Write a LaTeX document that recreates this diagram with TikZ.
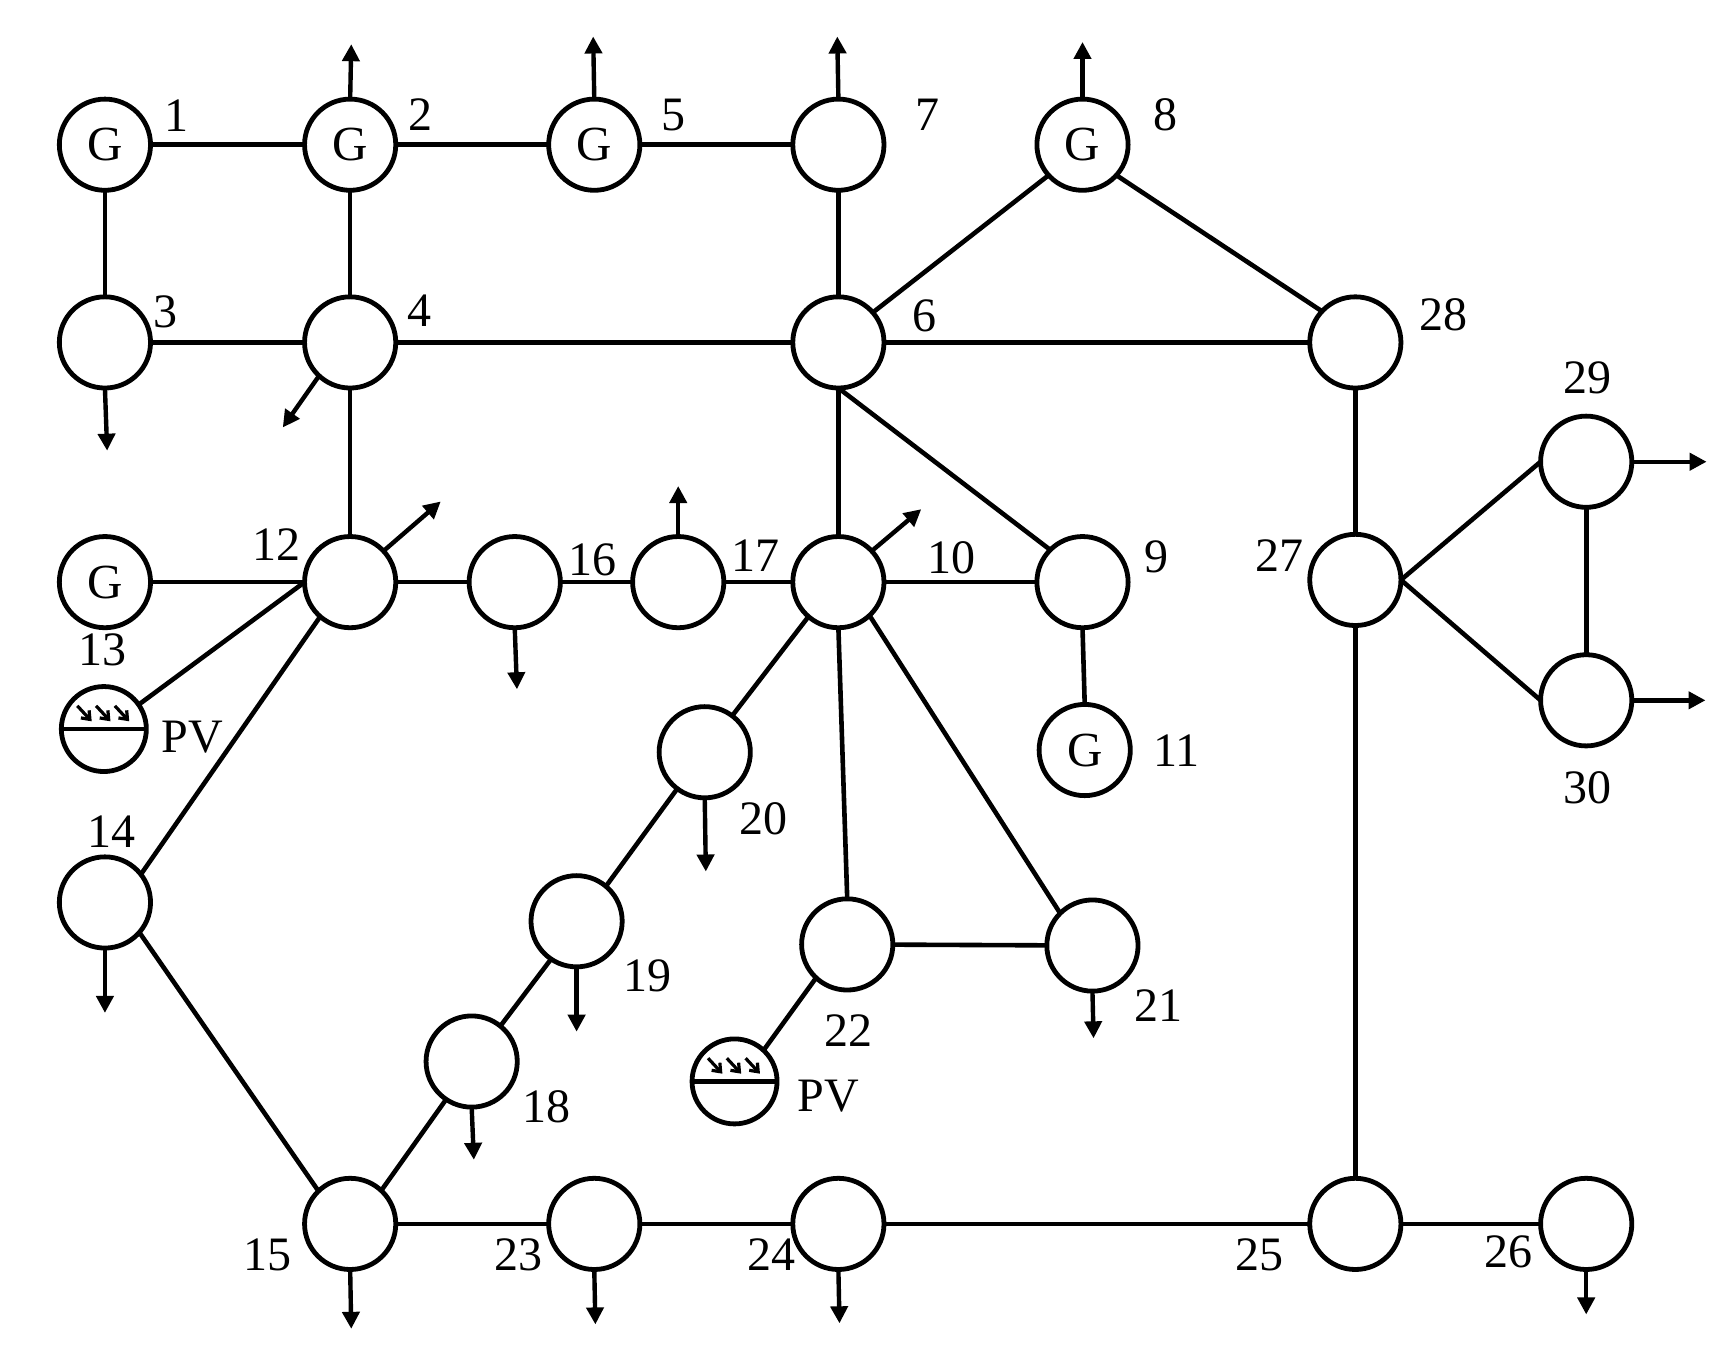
\documentclass[tikz,border=0pt]{standalone}
\usepackage{fontspec}
\setmainfont{Liberation Serif}
\usetikzlibrary{arrows.meta}
\tikzset{
  x=0.5523pt,y=-0.5523pt,
  bus/.style={circle,draw=black,line width=2.4pt,fill=white,minimum size=45.6pt,inner sep=0pt,outer sep=0pt,font=\fontsize{24.5}{24.5}\selectfont},
  pvbus/.style={circle,draw=black,line width=2.4pt,fill=white,minimum size=42.5pt,inner sep=0pt,outer sep=0pt},
  lab/.style={inner sep=0pt,font=\fontsize{24}{24}\selectfont},
  link/.style={line width=2.3pt,draw=black},
  load/.style={line width=2.2pt,draw=black,-{Triangle[length=8.5pt,width=8.5pt]}},
  ray/.style={line width=1.6pt,draw=black,-{Straight Barb[length=3.6pt,width=5.6pt]}}
}
\newcommand{\pvmark}[1]{%
  \draw[link] (#1.west) -- (#1.east);
  \begin{scope}[shift={(#1)}]
    \foreach \dx in {0,17,34}{\draw[ray] (-24+\dx,-21) -- (-11+\dx,-7);}
  \end{scope}}
\begin{document}
\begin{tikzpicture}
\useasboundingbox (0,0) rectangle (1568,1228);
\node[bus] (n1) at (95,131) {G};
\node[bus] (n2) at (317,131) {G};
\node[bus] (n5) at (538,131) {G};
\node[bus] (n7) at (759,131) {};
\node[bus] (n8) at (980,131) {G};
\node[bus] (n3) at (95,310) {};
\node[bus] (n4) at (317,310) {};
\node[bus] (n6) at (759,310) {};
\node[bus] (n28) at (1227,310) {};
\node[bus] (n29) at (1436,418) {};
\node[bus] (n13) at (95,527) {G};
\node[bus] (n12) at (317,527) {};
\node[bus] (n16) at (466,527) {};
\node[bus] (n17) at (614,527) {};
\node[bus] (n10) at (759,527) {};
\node[bus] (n9) at (980,527) {};
\node[bus] (n27) at (1227,525) {};
\node[bus] (n30) at (1436,634) {};
\node[bus] (n11) at (982,679) {G};
\node[bus] (n20) at (638,681) {};
\node[bus] (n14) at (95,817) {};
\node[bus] (n19) at (522,834) {};
\node[bus] (n22) at (767,855) {};
\node[bus] (n21) at (989,856) {};
\node[bus] (n18) at (427,961) {};
\node[bus] (n15) at (317,1108) {};
\node[bus] (n23) at (538,1108) {};
\node[bus] (n24) at (759,1108) {};
\node[bus] (n25) at (1227,1108) {};
\node[bus] (n26) at (1436,1108) {};
\node[pvbus] (pva) at (94,660) {};
\node[pvbus] (pvb) at (665,979) {};
\pvmark{pva}
\pvmark{pvb}
% lines
\draw[link] (n1) -- (n2);
\draw[link] (n2) -- (n5);
\draw[link] (n5) -- (n7);
\draw[link] (n1) -- (n3);
\draw[link] (n2) -- (n4);
\draw[link] (n7) -- (n6);
\draw[link] (n3) -- (n4);
\draw[link] (n4) -- (n6);
\draw[link] (n6.east) -- (n28.west);
\draw[link] (n6.41) -- (n8.222);
\draw[link] (n8.-42) -- (n28.137);
\draw[link] (n28) -- (n27);
\draw[link] (n4) -- (n12);
\draw[link] (n6) -- (n10);
\draw[link] (n6.south) -- (n9.135);
\draw[link] (n13) -- (n12);
\draw[link] (n12) -- (n16);
\draw[link] (n16) -- (n17);
\draw[link] (n17) -- (n10);
\draw[link] (n10) -- (n9);
\draw[link] (n9.south) -- (n11.north);
\draw[link] (n12.west) -- (pva.35);
\draw[link] (n12.229) -- (n14.38);
\draw[link] (n14.-41) -- (n15.134);
\draw[link] (n10.229) -- (n20.53);
\draw[link] (n10.south) -- (n22.north);
\draw[link] (n10.-47) -- (n21.135);
\draw[link] (n20.233) -- (n19.50);
\draw[link] (n19.236) -- (n18.51);
\draw[link] (n18.236) -- (n15.47);
\draw[link] (n22) -- (n21);
\draw[link] (n22.227) -- (pvb.47);
\draw[link] (n15) -- (n23);
\draw[link] (n23) -- (n24);
\draw[link] (n24) -- (n25);
\draw[link] (n25) -- (n26);
\draw[link] (n27) -- (n25);
\draw[link] (n27.east) -- (n29.west);
\draw[link] (n27.east) -- (n30.west);
\draw[link] (n29) -- (n30);
% loads
\coordinate (la) at (318,40);\draw[load] (n2.north) -- (la);
\coordinate (lb) at (537,33);\draw[load] (n5.north) -- (lb);
\coordinate (lc) at (758,33);\draw[load] (n7.north) -- (lc);
\coordinate (ld) at (980,38);\draw[load] (n8.north) -- (ld);
\coordinate (le) at (97,408);\draw[load] (n3.south) -- (le);
\coordinate (lf) at (256,387);\draw[load] (n4.227) -- (lf);
\coordinate (lg) at (399,454);\draw[load] (n12.43) -- (lg);
\coordinate (lh) at (468,624);\draw[load] (n16.south) -- (lh);
\coordinate (li) at (614,440);\draw[load] (n17.north) -- (li);
\coordinate (lj) at (834,461);\draw[load] (n10.43) -- (lj);
\coordinate (lk) at (1545,418);\draw[load] (n29.east) -- (lk);
\coordinate (ll) at (1544,634);\draw[load] (n30.east) -- (ll);
\coordinate (lm) at (639,789);\draw[load] (n20.south) -- (lm);
\coordinate (ln) at (95,917);\draw[load] (n14.south) -- (ln);
\coordinate (lo) at (522,934);\draw[load] (n19.south) -- (lo);
\coordinate (lp) at (990,940);\draw[load] (n21.south) -- (lp);
\coordinate (lq) at (429,1050);\draw[load] (n18.south) -- (lq);
\coordinate (lr) at (318,1203);\draw[load] (n15.south) -- (lr);
\coordinate (ls) at (539,1199);\draw[load] (n23.south) -- (ls);
\coordinate (lt) at (760,1198);\draw[load] (n24.south) -- (lt);
\coordinate (lu) at (1436,1190);\draw[load] (n26.south) -- (lu);
% labels
\node[lab] (t1) at (160,105) {1};
\node[lab] (t2) at (381,104) {2};
\node[lab] (t5) at (610,104) {5};
\node[lab] (t7) at (840,104) {7};
\node[lab] (t8) at (1055,104) {8};
\node[lab] (t3) at (150,282) {3};
\node[lab] (t4) at (380,281) {4};
\node[lab] (t6) at (837,286) {6};
\node[lab] (t28) at (1307,285) {28};
\node[lab] (t29) at (1437,342) {29};
\node[lab] (t12) at (250,493) {12};
\node[lab] (t16) at (536,507) {16};
\node[lab] (t17) at (684,503) {17};
\node[lab] (t10) at (861,505) {10};
\node[lab] (t9) at (1047,504) {9};
\node[lab] (t27) at (1158,503) {27};
\node[lab] (t13) at (93,588) {13};
\node[lab] (tpa) at (174,667) {PV};
\node[lab] (t11) at (1065,680) {11};
\node[lab] (t14) at (101,753) {14};
\node[lab] (t20) at (691,741) {20};
\node[lab] (t30) at (1437,713) {30};
\node[lab] (t19) at (586,883) {19};
\node[lab] (t21) at (1049,910) {21};
\node[lab] (t22) at (768,933) {22};
\node[lab] (t18) at (495,1002) {18};
\node[lab] (tpb) at (750,992) {PV};
\node[lab] (t15) at (242,1136) {15};
\node[lab] (t23) at (469,1136) {23};
\node[lab] (t24) at (698,1136) {24};
\node[lab] (t25) at (1140,1136) {25};
\node[lab] (t26) at (1366,1133) {26};
\end{tikzpicture}
\end{document}
